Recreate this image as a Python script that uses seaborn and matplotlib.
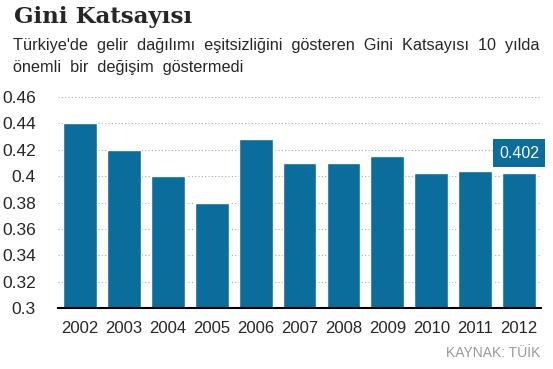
import numpy as np
import pandas as pd
import seaborn as sns
import matplotlib.pyplot as plt

# --- data ---
years = ['2002', '2003', '2004', '2005', '2006', '2007',
         '2008', '2009', '2010', '2011', '2012']
gini = [0.44, 0.42, 0.40, 0.38, 0.428, 0.41, 0.41, 0.415, 0.402, 0.404, 0.402]
y_ticks = [0.3, 0.32, 0.34, 0.36, 0.38, 0.4, 0.42, 0.44, 0.46]
y_tick_labels = ['0.3', '0.32', '0.34', '0.36', '0.38', '0.4', '0.42', '0.44', '0.46']

df = pd.DataFrame({'year': years, 'gini': gini})

sns.set_style("white")
plt.rcParams['font.family'] = ['Liberation Sans', 'DejaVu Sans']

bar_color = '#0a6d9c'

fig = plt.figure(figsize=(5.53, 3.69), dpi=100)
ax = fig.add_axes([0.1049, 0.1653, 0.8734, 0.5718])

sns.barplot(data=df, x='year', y='gini', color=bar_color, width=0.77,
            saturation=1, ax=ax)

ax.set_ylim(0.3, 0.46)
ax.set_xlim(-0.5, len(years) - 0.5)
ax.set_yticks(y_ticks)
ax.set_yticklabels(y_tick_labels, fontsize=12.5)
ax.set_xticks(range(len(years)))
ax.set_xticklabels(years, fontsize=12)
ax.set_xticks(np.arange(len(years) + 1) - 0.5, minor=True)
ax.tick_params(axis='x', which='major', length=0, pad=9)
ax.tick_params(axis='x', which='minor', length=4, width=1.3, color='black', direction='out')
ax.tick_params(axis='y', length=0, pad=16)
ax.set_xlabel('')
ax.set_ylabel('')

ax.yaxis.grid(True, linestyle=(0, (1, 2)), color='#aaaaaa', linewidth=0.8)
ax.set_axisbelow(True)
for s in ['top', 'right', 'left']:
    ax.spines[s].set_visible(False)
ax.spines['bottom'].set_color('black')
ax.spines['bottom'].set_linewidth(1.5)

# value box over the last bar
last = len(years) - 1
ax.annotate(f'{gini[last]:.3f}', (last, gini[last]), xytext=(0, 14.5),
            textcoords='offset points', ha='center', va='center',
            color='white', fontsize=11.5,
            bbox=dict(boxstyle='square,pad=0.4', fc=bar_color, ec='none'))

# titles and source
fig.text(0.026, 0.953, 'Gini Katsayısı', fontsize=16.5, fontweight='bold',
         family='DejaVu Serif', va='center', ha='left')
fig.text(0.023, 0.877, "Türkiye'de  gelir  dağılımı  eşitsizliğini  gösteren  Gini  Katsayısı  10  yılda",
         fontsize=11.7, va='center', ha='left')
fig.text(0.023, 0.817, 'önemli  bir  değişim  göstermedi',
         fontsize=11.7, va='center', ha='left')
fig.text(0.977, 0.043, 'KAYNAK: TÜİK', fontsize=10, color='#999999',
         va='center', ha='right')

plt.savefig('out.png', dpi=100)
